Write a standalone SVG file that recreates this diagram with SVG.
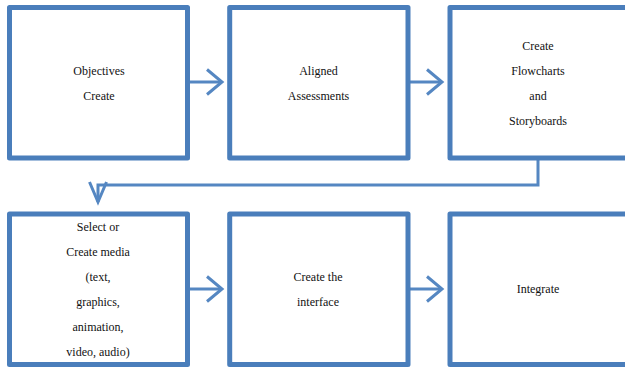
<svg xmlns="http://www.w3.org/2000/svg" width="625" height="367" viewBox="0 0 625 367">
<defs>
<style>
.box{fill:#fff;stroke:#4A7EBB;stroke-width:5;stroke-linejoin:round}
.con{fill:none;stroke:#5587C2;stroke-width:3}
.t{font-size:12px;fill:#111;text-anchor:middle}
</style>
<marker id="ah" markerUnits="userSpaceOnUse" viewBox="-17 -14 19 28" markerWidth="19" markerHeight="28" refX="0" refY="0" orient="auto" overflow="visible">
<path d="M-15,-12.5 L0,0 L-15,12.5" fill="none" stroke="#5587C2" stroke-width="3"/>
</marker>
<marker id="ahv" markerUnits="userSpaceOnUse" viewBox="-22 -10 24 20" markerWidth="24" markerHeight="20" refX="0" refY="0" orient="auto" overflow="visible">
<path d="M-20,-8.5 L0,0 L-20,8.5" fill="none" stroke="#5587C2" stroke-width="3"/>
</marker>
</defs>
<rect width="625" height="367" fill="#fff"/>
<g id="connectors">
<line class="con" x1="190" y1="82" x2="222" y2="82" marker-end="url(#ah)"/>
<line class="con" x1="410" y1="82" x2="442" y2="82" marker-end="url(#ah)"/>
<polyline class="con" points="538,160 538,185 98,185 98,202" marker-end="url(#ahv)"/>
<line class="con" x1="190" y1="289" x2="222" y2="289" marker-end="url(#ah)"/>
<line class="con" x1="410" y1="289" x2="442" y2="289" marker-end="url(#ah)"/>
</g>
<g font-family="Liberation Serif, DejaVu Serif, serif">
<g id="n1">
<rect class="box" x="9.5" y="7.5" width="178" height="150.5"/>
<text class="t" x="99" y="75">Objectives</text>
<text class="t" x="99" y="100">Create</text>
</g>
<g id="n2">
<rect class="box" x="229.7" y="7.5" width="178.3" height="150.5"/>
<text class="t" x="318.5" y="75">Aligned</text>
<text class="t" x="318.5" y="100">Assessments</text>
</g>
<g id="n3">
<rect class="box" x="450" y="7.5" width="178" height="150.5"/>
<text class="t" x="538" y="50">Create</text>
<text class="t" x="538" y="75">Flowcharts</text>
<text class="t" x="538" y="100">and</text>
<text class="t" x="538" y="125">Storyboards</text>
</g>
<g id="n4">
<rect class="box" x="9.5" y="214" width="178" height="150.5"/>
<text class="t" x="98" y="231">Select or</text>
<text class="t" x="98" y="256">Create media</text>
<text class="t" x="98" y="281">(text,</text>
<text class="t" x="98" y="306">graphics,</text>
<text class="t" x="98" y="331">animation,</text>
<text class="t" x="98" y="356">video, audio)</text>
</g>
<g id="n5">
<rect class="box" x="229.7" y="214" width="178.3" height="150.5"/>
<text class="t" x="318" y="281">Create the</text>
<text class="t" x="318" y="306">interface</text>
</g>
<g id="n6">
<rect class="box" x="450" y="214" width="178" height="150.5"/>
<text class="t" x="538" y="293">Integrate</text>
</g>
</g>
</svg>
